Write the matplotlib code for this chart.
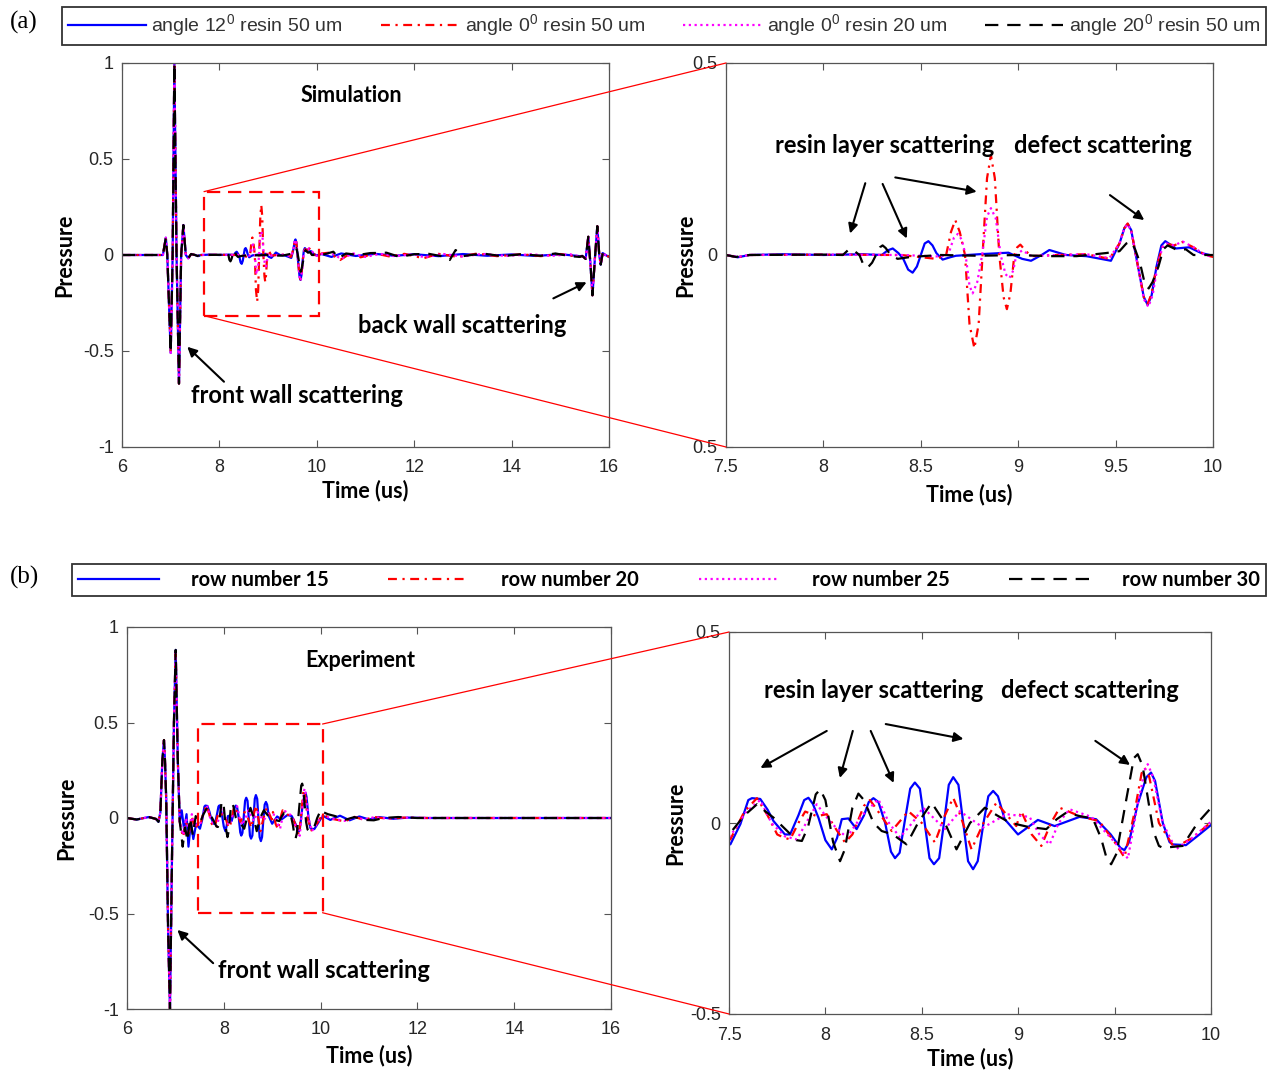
import numpy as np
import matplotlib
matplotlib.use("Agg")
import matplotlib.pyplot as plt
from matplotlib.patches import Rectangle, ConnectionPatch

plt.rcParams["font.family"] = "Liberation Sans"
plt.rcParams["mathtext.fontset"] = "custom"
plt.rcParams["mathtext.rm"] = "Liberation Sans"

# ---------------- (a) simulation data ----------------
sim_labels = [r"angle 12$^{\mathrm{0}}$ resin 50 um", r"angle 0$^{\mathrm{0}}$ resin 50 um",
              r"angle 0$^{\mathrm{0}}$ resin 20 um", r"angle 20$^{\mathrm{0}}$ resin 50 um"]

# front wall echo (all four traces overlap)
sim_front_t = [6.0, 6.5, 6.8, 6.84, 6.9, 6.93, 7.0, 7.04, 7.075, 7.12, 7.17, 7.215, 7.26, 7.31, 7.36, 7.42]
sim_front_p = [0.0, 0.0, 0.0, 0.0, 0.09, 0.0, -0.51, 0.0, 1.0, 0.0, -0.67, 0.0, 0.156, 0.0, -0.017, 0.005]

# 7.5 - 10 us (zoomed window)
sim_blue_t = [7.5, 7.56, 7.62, 7.8, 8.0, 8.2, 8.3, 8.33, 8.356, 8.385, 8.41, 8.435, 8.458, 8.48, 8.5, 8.52,
              8.539, 8.56, 8.58, 8.612, 8.65, 8.68, 8.8, 8.95, 9.02, 9.066, 9.12, 9.16, 9.245, 9.35, 9.476,
              9.52, 9.545, 9.562, 9.58, 9.615, 9.645, 9.665, 9.685, 9.71, 9.735, 9.755, 9.81, 9.878, 9.94, 10.0]
sim_blue_p = [0.0, -0.006, 0.0, 0.002, 0.0, 0.002, 0.0, 0.012, 0.017, 0.005, -0.01, -0.038, -0.046, -0.03,
              0.0, 0.03, 0.036, 0.025, 0.005, -0.012, -0.006, -0.002, 0.002, 0.006, -0.01, -0.015, 0.0,
              0.013, 0.0, -0.003, -0.015, 0.03, 0.07, 0.081, 0.065, -0.03, -0.11, -0.13, -0.105, -0.03,
              0.025, 0.036, 0.017, 0.02, 0.005, -0.002]
sim_red_t = [7.5, 7.56, 7.62, 8.0, 8.4, 8.578, 8.63, 8.655, 8.677, 8.7, 8.727, 8.75, 8.775, 8.797, 8.817,
             8.84, 8.86, 8.88, 8.903, 8.925, 8.942, 8.96, 8.98, 8.995, 9.011, 9.04, 9.066, 9.2, 9.35, 9.468,
             9.52, 9.545, 9.562, 9.58, 9.615, 9.645, 9.665, 9.685, 9.71, 9.74, 9.758, 9.8, 9.844, 9.9,
             9.96, 10.0]
sim_red_p = [0.0, -0.006, 0.0, 0.001, 0.0, -0.01, 0.0, 0.06, 0.091, 0.06, 0.0, -0.18, -0.243, -0.18, 0.0,
             0.2, 0.26, 0.2, 0.0, -0.11, -0.141, -0.1, 0.0, 0.02, 0.027, 0.01, -0.003, 0.0, 0.002, -0.01,
             0.03, 0.07, 0.082, 0.065, -0.03, -0.11, -0.127, -0.1, -0.03, 0.02, 0.03, 0.025, 0.034, 0.02,
             0.0, -0.005]
sim_mag_t = [7.5, 7.56, 7.62, 8.0, 8.4, 8.6, 8.64, 8.67, 8.69, 8.71, 8.73, 8.75, 8.766, 8.79, 8.815, 8.84,
             8.86, 8.885, 8.91, 8.935, 8.955, 8.975, 8.99, 9.02, 9.07, 9.2, 9.35, 9.468, 9.52, 9.545, 9.562,
             9.58, 9.615, 9.645, 9.668, 9.69, 9.715, 9.74, 9.76, 9.8, 9.845, 9.9, 9.96, 10.0]
sim_mag_p = [0.0, -0.005, 0.0, 0.001, 0.0, -0.004, 0.0, 0.045, 0.055, 0.04, 0.0, -0.08, -0.10, -0.07, 0.0,
             0.1, 0.122, 0.095, 0.0, -0.05, -0.06, -0.04, 0.0, 0.012, -0.003, 0.0, 0.002, -0.008, 0.03,
             0.07, 0.08, 0.062, -0.03, -0.115, -0.135, -0.105, -0.03, 0.02, 0.03, 0.025, 0.035, 0.02, 0.0,
             -0.005]
sim_black_t = [7.5, 7.55, 7.62, 8.0, 8.1, 8.125, 8.142, 8.16, 8.185, 8.205, 8.227, 8.25, 8.27, 8.29, 8.304,
               8.32, 8.345, 8.381, 8.45, 8.6, 8.8, 9.0, 9.15, 9.3, 9.45, 9.52, 9.555, 9.579, 9.6, 9.625,
               9.65, 9.67, 9.69, 9.72, 9.745, 9.767, 9.82, 9.86, 9.9, 9.95, 10.0]
sim_black_p = [0.0, -0.005, 0.0, 0.001, 0.0, 0.012, 0.015, 0.01, 0.0, -0.025, -0.033, -0.02, 0.0, 0.02,
               0.025, 0.018, 0.0, -0.01, -0.005, 0.0, -0.002, 0.0, -0.003, -0.003, 0.005, 0.01, 0.03,
               0.035, 0.015, -0.02, -0.075, -0.087, -0.07, -0.03, 0.015, 0.025, 0.012, 0.015, 0.0, 0.0,
               0.0]

# small ripples between 10 and 15.4 us
sim_blue_tail_t = [10.1, 10.3, 10.5, 10.8, 11.2, 11.6, 12.0, 12.5, 13.0, 13.5, 14.0, 14.5, 15.0, 15.4]
sim_blue_tail_p = [0.005, -0.01, 0.008, -0.005, 0.006, -0.004, 0.004, -0.006, 0.005, -0.004, 0.003, -0.005,
                   0.004, -0.006]
sim_red_tail_t = [10.1, 10.25, 10.48, 10.7, 10.9, 11.2, 11.5, 11.8, 12.19, 12.5, 12.9, 13.3, 13.7, 14.2,
                  14.6, 15.0, 15.4]
sim_red_tail_p = [0.008, 0.012, -0.026, 0.01, -0.012, 0.008, -0.008, 0.006, -0.017, 0.006, -0.01, 0.008,
                  -0.006, 0.004, -0.006, 0.005, -0.01]
sim_mag_tail_t = [10.1, 10.3, 10.5, 10.75, 11.0, 11.3, 11.6, 12.0, 12.2, 12.6, 13.0, 13.4, 13.9, 14.4,
                  14.8, 15.2, 15.4]
sim_mag_tail_p = [0.006, 0.01, -0.02, 0.008, -0.01, 0.006, -0.006, 0.004, -0.012, 0.005, -0.008, 0.006,
                  -0.005, 0.004, -0.005, 0.004, -0.008]
sim_black_tail_t = [10.1, 10.34, 10.45, 10.6, 10.85, 11.1, 11.43, 11.7, 12.0, 12.3, 12.6, 12.73, 12.85,
                    13.0, 13.4, 13.8, 14.2, 14.6, 14.9, 15.2, 15.4]
sim_black_tail_p = [0.0, 0.017, -0.017, 0.008, 0.0, 0.01, 0.012, -0.01, 0.004, 0.006, -0.008, -0.026,
                    0.026, -0.006, 0.008, -0.006, 0.004, -0.004, 0.008, -0.006, -0.01]

# back wall echo
sim_back_t = [15.45, 15.52, 15.575, 15.62, 15.66, 15.71, 15.76, 15.8, 15.83, 15.87, 15.93, 16.0]
sim_back_p = [-0.005, -0.02, 0.095, -0.05, -0.21, -0.02, 0.15, 0.0, -0.05, 0.01, 0.0, -0.01]

# ---------------- (b) experiment data ----------------
exp_labels = ["row number 15", "row number 20", "row number 25", "row number 30"]

exp_front_t = [6.0, 6.2, 6.45, 6.6, 6.65, 6.69, 6.73, 6.764, 6.785, 6.81, 6.85, 6.888, 6.93, 6.97, 7.006,
               7.05, 7.09]
exp_front_p = [0.0, -0.008, 0.005, -0.005, -0.02, 0.03, 0.3, 0.408, 0.3, 0.1, -0.6, -1.0, -0.2, 0.5, 0.88,
               0.3, -0.02]

exp_blue_t = [7.13, 7.18, 7.23, 7.27, 7.32, 7.37, 7.43,
              7.507, 7.559, 7.6, 7.619, 7.662, 7.7, 7.731, 7.79, 7.817, 7.86, 7.89, 7.912, 7.935, 7.964,
              8.0, 8.033, 8.06, 8.085, 8.119, 8.162, 8.2, 8.225, 8.249, 8.275, 8.31, 8.34, 8.361, 8.385,
              8.41, 8.44, 8.464, 8.49, 8.515, 8.54, 8.563, 8.59, 8.615, 8.64, 8.663, 8.69, 8.715, 8.74,
              8.766, 8.79, 8.82, 8.845, 8.87, 8.895, 8.93, 8.999, 9.102, 9.189, 9.318, 9.404, 9.48, 9.53,
              9.551, 9.575, 9.62, 9.665, 9.689, 9.71, 9.75, 9.785, 9.801, 9.87, 9.94, 10.008,
              10.06, 10.2, 10.4, 10.6, 10.8, 11.0, 11.2, 11.5, 11.8, 12.2, 16.0]
exp_blue_p = [0.04, -0.06, 0.02, -0.15, -0.02, -0.11, -0.03,
              -0.056, -0.003, 0.06, 0.065, 0.063, 0.035, 0.005, -0.03, -0.03, 0.02, 0.06, 0.066, 0.05,
              0.014, -0.045, -0.069, -0.04, 0.01, 0.012, -0.016, 0.02, 0.055, 0.065, 0.055, 0.0, -0.075,
              -0.092, -0.078, 0.0, 0.09, 0.106, 0.09, 0.0, -0.092, -0.108, -0.092, 0.0, 0.1, 0.12, 0.1,
              0.0, -0.1, -0.121, -0.1, 0.0, 0.07, 0.084, 0.07, 0.01, -0.03, 0.008, -0.008, 0.016, 0.01,
              -0.03, -0.065, -0.071, -0.05, 0.05, 0.12, 0.132, 0.11, 0.0, -0.05, -0.056, -0.058, -0.03,
              -0.002,
              0.01, -0.01, 0.012, -0.012, 0.008, -0.008, 0.005, -0.004, 0.002, 0.0, 0.0]
exp_red_t = [7.12, 7.16, 7.22, 7.28, 7.34, 7.4, 7.45,
             7.507, 7.58, 7.645, 7.7, 7.75, 7.783, 7.817, 7.86, 7.895, 7.955, 8.007, 8.06, 8.102, 8.14,
             8.2, 8.231, 8.26, 8.344, 8.43, 8.5, 8.568, 8.62, 8.663, 8.7, 8.758, 8.82, 8.887, 8.99, 9.016,
             9.07, 9.12, 9.17, 9.215, 9.318, 9.42, 9.5, 9.551, 9.6, 9.64, 9.655, 9.68, 9.73, 9.81, 9.9,
             10.008,
             10.06, 10.25, 10.5, 10.7, 10.9, 11.1, 11.4, 11.7, 12.2, 16.0]
exp_red_p = [-0.06, -0.1, -0.02, -0.08, 0.01, -0.06, -0.04,
             -0.043, 0.03, 0.065, 0.02, -0.03, -0.038, -0.043, 0.0, 0.03, 0.018, 0.023, -0.02, -0.051,
             -0.03, 0.045, 0.06, 0.04, -0.021, 0.031, 0.0, -0.051, 0.02, 0.066, 0.02, -0.069, 0.0, 0.053,
             -0.008, 0.031, -0.03, -0.06, 0.0, 0.04, 0.018, 0.005, -0.05, -0.09, 0.02, 0.13, 0.145, 0.12,
             0.0, -0.065, -0.04, 0.005,
             0.015, -0.005, -0.018, 0.006, -0.01, 0.005, -0.004, 0.002, 0.0, 0.0]
exp_mag_t = [7.12, 7.16, 7.22, 7.28, 7.34, 7.4, 7.45,
             7.507, 7.59, 7.662, 7.72, 7.79, 7.852, 7.9, 7.955, 8.03, 8.111, 8.19, 8.275, 8.33, 8.387,
             8.45, 8.507, 8.62, 8.697, 8.818, 8.939, 9.059, 9.11, 9.163, 9.21, 9.266, 9.38, 9.5, 9.569,
             9.62, 9.66, 9.672, 9.7, 9.75, 9.818, 9.9, 10.008,
             10.06, 10.25, 10.5, 10.7, 10.9, 11.1, 11.4, 11.7, 12.2, 16.0]
exp_mag_p = [-0.05, -0.09, 0.0, -0.07, 0.02, -0.05, -0.03,
             -0.034, 0.03, 0.06, 0.0, -0.035, -0.043, 0.0, 0.049, 0.0, -0.038, 0.02, 0.062, 0.0, -0.038,
             0.0, 0.04, -0.016, 0.031, -0.012, 0.023, 0.016, -0.03, -0.056, 0.0, 0.036, 0.016, -0.05,
             -0.093, 0.05, 0.145, 0.154, 0.12, 0.0, -0.069, -0.04, 0.007,
             0.012, -0.004, -0.015, 0.005, -0.008, 0.004, -0.003, 0.002, 0.0, 0.0]
exp_black_t = [7.12, 7.15, 7.2, 7.25, 7.3, 7.36, 7.42,
               7.507, 7.58, 7.645, 7.69, 7.731, 7.8, 7.85, 7.878, 7.91, 7.95, 7.973, 8.0, 8.04, 8.076, 8.1,
               8.14, 8.171, 8.2, 8.25, 8.292, 8.35, 8.421, 8.48, 8.551, 8.62, 8.68, 8.75, 8.827, 8.89,
               8.956, 9.05, 9.146, 9.2, 9.249, 9.32, 9.387, 9.43, 9.46, 9.482, 9.51, 9.56, 9.6, 9.62, 9.645,
               9.7, 9.73, 9.75, 9.853, 9.93, 10.008,
               10.06, 10.15, 10.3, 10.5, 10.7, 10.9, 11.1, 11.3, 11.6, 12.0, 16.0]
exp_black_p = [-0.08, -0.15, -0.05, -0.12, 0.0, -0.09, 0.01,
               -0.026, 0.02, 0.049, 0.03, 0.014, -0.02, -0.045, -0.047, -0.01, 0.075, 0.088, 0.06, -0.05,
               -0.1, -0.07, 0.04, 0.077, 0.06, 0.0, -0.021, -0.03, -0.056, 0.0, 0.053, 0.0, -0.069, 0.0,
               0.04, 0.02, 0.001, -0.01, -0.016, 0.01, 0.027, 0.018, 0.012, -0.04, -0.095, -0.108, -0.08,
               0.06, 0.17, 0.18, 0.15, -0.02, -0.06, -0.065, -0.06, 0.0, 0.044,
               0.03, 0.02, 0.01, -0.01, 0.005, -0.01, -0.012, 0.0, 0.005, 0.0, 0.0]

# ---------------- styles ----------------
colors = ["#0000ff", "#ff0000", "#ff00ff", "#000000"]
styles = ["-", (0, (4, 2.5, 1, 2.5)), (0, (1, 1.6)), (0, (6, 4))]
tick_color = "#262626"
spine_color = "#555555"
bold_font = "Lato"

sim_t = [np.concatenate([sim_front_t, z, n, sim_back_t])
         for z, n in [(sim_blue_t, sim_blue_tail_t), (sim_red_t, sim_red_tail_t),
                      (sim_mag_t, sim_mag_tail_t), (sim_black_t, sim_black_tail_t)]]
sim_p = [np.concatenate([sim_front_p, z, n, sim_back_p])
         for z, n in [(sim_blue_p, sim_blue_tail_p), (sim_red_p, sim_red_tail_p),
                      (sim_mag_p, sim_mag_tail_p), (sim_black_p, sim_black_tail_p)]]
exp_t = [np.concatenate([exp_front_t, s]) for s in [exp_blue_t, exp_red_t, exp_mag_t, exp_black_t]]
exp_p = [np.concatenate([exp_front_p, s]) for s in [exp_blue_p, exp_red_p, exp_mag_p, exp_black_p]]

W, H = 1268, 1074
fig = plt.figure(figsize=(W / 100, H / 100), dpi=100)


def px_axes(x0, x1, y0, y1):
    return fig.add_axes([x0 / W, 1 - y1 / H, (x1 - x0) / W, (y1 - y0) / H])


ax1 = px_axes(122, 609, 63, 447)
ax2 = px_axes(726, 1213, 63, 447)
ax3 = px_axes(127, 611, 627, 1009)
ax4 = px_axes(729, 1211, 632, 1014)


def style_axes(ax, xlim, ylim, xticks, yticks, yticklabels, ylab_x, xlab_y):
    ax.set_xlim(*xlim)
    ax.set_ylim(*ylim)
    ax.set_xticks(xticks)
    ax.set_xticklabels([f"{v:g}" for v in xticks])
    ax.set_yticks(yticks)
    ax.set_yticklabels(yticklabels)
    ax.tick_params(direction="in", top=True, right=True, length=5, width=0.8, color=spine_color,
                   labelsize=13, labelcolor=tick_color)
    ax.tick_params(axis="x", pad=9)
    ax.tick_params(axis="y", pad=6)
    for s in ax.spines.values():
        s.set_color(spine_color)
        s.set_linewidth(0.9)
    ax.set_ylabel("Pressure", fontsize=15.5, fontweight="bold", family=bold_font)
    ax.set_xlabel("Time (us)", fontsize=15.5, fontweight="bold", family=bold_font, va="top")
    ax.yaxis.set_label_coords(ylab_x, 0.5)
    ax.xaxis.set_label_coords(0.5, xlab_y)


lines_a = []
for ax in (ax1, ax2):
    for t, p, c, ls in zip(sim_t, sim_p, colors, styles):
        ln, = ax.plot(t, p, color=c, linestyle=ls, lw=1.6)
        if ax is ax1:
            lines_a.append(ln)
lines_b = []
for ax in (ax3, ax4):
    for t, p, c, ls in zip(exp_t, exp_p, colors, styles):
        ln, = ax.plot(t, p, color=c, linestyle=ls, lw=1.6)
        if ax is ax3:
            lines_b.append(ln)

style_axes(ax1, (6, 16), (-1, 1), [6, 8, 10, 12, 14, 16], [-1, -0.5, 0, 0.5, 1],
           ["-1", "-0.5", "0", "0.5", "1"], -0.0965, -0.085)
style_axes(ax2, (7.5, 10), (-0.5, 0.5), [7.5, 8, 8.5, 9, 9.5, 10], [-0.5, 0, 0.5],
           ["0.5", "0", "0.5"], -0.0616, -0.096)
style_axes(ax3, (6, 16), (-1, 1), [6, 8, 10, 12, 14, 16], [-1, -0.5, 0, 0.5, 1],
           ["-1", "-0.5", "0", "0.5", "1"], -0.103, -0.094)
style_axes(ax4, (7.5, 10), (-0.5, 0.5), [7.5, 8, 8.5, 9, 9.5, 10], [-0.5, 0, 0.5],
           ["-0.5", "0", "0.5"], -0.089, -0.089)

# zoom boxes and connectors
red = "#ff0000"
ax1.add_patch(Rectangle((7.684, -0.316), 10.045 - 7.684, 0.33 + 0.316, fill=False, ec=red, lw=1.6,
                        ls=(0, (6, 3.5)), zorder=5))
ax3.add_patch(Rectangle((7.46, -0.496), 10.04 - 7.46, 0.492 + 0.496, fill=False, ec=red, lw=1.6,
                        ls=(0, (6, 3.5)), zorder=5))
for xyA, ya, axA, axB in [((7.684, 0.33), 1, ax1, ax2), ((7.684, -0.316), 0, ax1, ax2),
                          ((10.04, 0.492), 1, ax3, ax4), ((10.04, -0.496), 0, ax3, ax4)]:
    cp = ConnectionPatch(xyA=xyA, coordsA="data", axesA=axA, xyB=(0, ya), coordsB="axes fraction",
                         axesB=axB, color=red, lw=0.9)
    fig.add_artist(cp)

# annotations
txt = dict(fontweight="bold", family=bold_font, ha="center", va="center")
arr = dict(arrowstyle="-|>", color="k", lw=1.5, mutation_scale=14, shrinkA=0, shrinkB=0)
ax1.text(10.7, 0.83, "Simulation", fontsize=15.5, **txt)
ax1.text(12.98, -0.365, "back wall scattering", fontsize=17, **txt)
ax1.text(9.59, -0.734, "front wall scattering", fontsize=17, **txt)
ax1.annotate("", xy=(7.34, -0.478), xytext=(8.094, -0.66), arrowprops=arr)
ax1.annotate("", xy=(15.54, -0.142), xytext=(14.857, -0.226), arrowprops=arr)

ax2.text(8.316, 0.286, "resin layer scattering", fontsize=17, **txt)
ax2.text(9.435, 0.286, "defect scattering", fontsize=17, **txt)
for tail, head in [((8.215, 0.187), (8.137, 0.056)), ((8.304, 0.185), (8.428, 0.043)),
                   ((8.369, 0.202), (8.787, 0.165)), ((9.471, 0.156), (9.647, 0.091))]:
    ax2.annotate("", xy=head, xytext=tail, arrowprops=arr)

ax3.text(10.81, 0.827, "Experiment", fontsize=15.5, **txt)
ax3.text(10.07, -0.80, "front wall scattering", fontsize=17, **txt)
ax3.annotate("", xy=(7.04, -0.586), xytext=(7.78, -0.76), arrowprops=arr)

ax4.text(8.25, 0.346, "resin layer scattering", fontsize=17, **txt)
ax4.text(9.37, 0.346, "defect scattering", fontsize=17, **txt)
for tail, head in [((8.007, 0.241), (7.663, 0.144)), ((8.142, 0.241), (8.075, 0.118)),
                   ((8.235, 0.241), (8.354, 0.105)), ((8.313, 0.259), (8.716, 0.22)),
                   ((9.40, 0.215), (9.58, 0.152))]:
    ax4.annotate("", xy=head, xytext=tail, arrowprops=arr)

# legends
leg_a = fig.legend(lines_a, sim_labels, loc="lower left", mode="expand", ncol=4,
                   bbox_to_anchor=(62 / W, 1 - 45 / H, (1266 - 62) / W, 39 / H), borderaxespad=0,
                   handlelength=4.0, handletextpad=0.3, fontsize=14, fancybox=False, edgecolor="#333333",
                   framealpha=1, borderpad=0.3, columnspacing=1.0)
leg_a.get_frame().set_linewidth(1.3)
for t in leg_a.get_texts():
    t.set_color("#333333")
leg_b = fig.legend(lines_b, exp_labels, loc="lower left", mode="expand", ncol=4,
                   bbox_to_anchor=(72 / W, 1 - 596 / H, (1266 - 72) / W, 38 / H), borderaxespad=0,
                   handlelength=4.0, handletextpad=1.6, fancybox=False, edgecolor="#333333",
                   framealpha=1, borderpad=0.3, columnspacing=1.0,
                   prop=dict(family=bold_font, weight="bold", size=14.5))
leg_b.get_frame().set_linewidth(1.3)

fig.text(10 / W, 1 - 22 / H, "(a)", family="Liberation Serif", fontsize=18, va="center")
fig.text(10 / W, 1 - 577 / H, "(b)", family="Liberation Serif", fontsize=18, va="center")

fig.savefig("out.png", dpi=100)
